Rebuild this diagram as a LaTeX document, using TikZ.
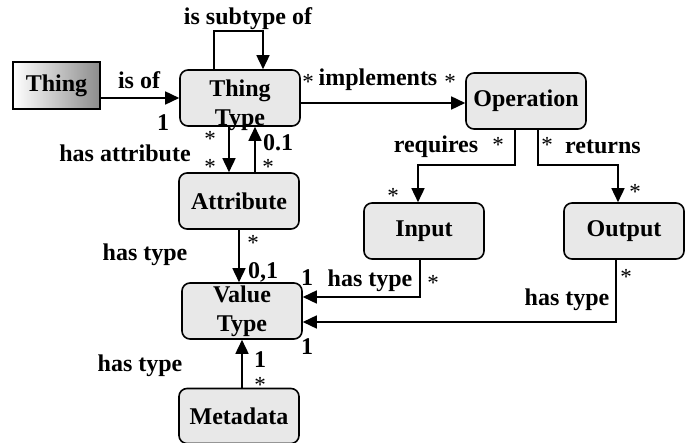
\documentclass[tikz,border=0pt]{standalone}
\usepackage{fontspec}
\setmainfont{Liberation Serif}
\usetikzlibrary{arrows.meta}
\definecolor{boxfill}{RGB}{232,232,232}
\definecolor{thingdark}{RGB}{140,140,140}
\begin{document}
\begin{tikzpicture}[x=1pt,y=-1pt,
  box/.style={draw, line width=1.6pt, rounded corners=8pt, fill=boxfill,
    minimum width=120pt, minimum height=56pt, inner sep=0pt, align=center,
    font=\bfseries\fontsize{24}{29}\selectfont},
  lbl/.style={inner sep=0pt, font=\bfseries\fontsize{24}{29}\selectfont},
  mult/.style={inner sep=0pt, font=\fontsize{23}{26}\selectfont},
  conn/.style={line width=1.6pt, -{Triangle[length=14pt,width=13pt]}},
  plain/.style={line width=1.6pt}]
\useasboundingbox (0,0) rectangle (690,443);

% nodes
\node[draw, line width=1.6pt, minimum width=87pt, minimum height=47pt, inner sep=0pt,
  left color=white, right color=thingdark, font=\bfseries\fontsize{24}{29}\selectfont]
  (thing) at (56.5,85.5) {Thing};
\node[box] (tt) at (240,98) {};
\node[lbl, align=center] (tttext) at (240,105) {Thing\\Type};
\node[box] (op) at (526,101) {Operation};
\node[box] (attr) at (239,201) {Attribute};
\node[box] (in) at (424,231) {Input};
\node[box] (out) at (624,231) {Output};
\node[box] (vt) at (242,311) {Value\\Type};
\node[box, minimum height=55pt] (meta) at (239,416) {Metadata};

% Thing -> Thing Type
\draw[conn] (thing.east |- tt.west) -- (tt.west);
\node[lbl] (lisof) at (139,80) {is of};
\node[lbl] (m1) at (163,123) {1};

% is subtype of (self loop)
\coordinate (s1) at (214,31);
\coordinate (s2) at (263,31);
\draw[conn] (s1 |- tt.north) -- (s1) -- (s2) -- (s2 |- tt.north);
\node[lbl] (lsub) at (248,19) {is subtype of};

% implements
\draw[conn] (tt.east |- 0,103) -- (op.west |- 0,103);
\node[mult] (m2) at (308,82) {*};
\node[lbl] (limp) at (378,80) {implements};
\node[mult] (m3) at (450,82) {*};

% has attribute
\draw[conn] (tt.south -| 229,0) -- (attr.north -| 229,0);
\draw[conn] (attr.north -| 255,0) -- (tt.south -| 255,0);
\node[lbl] (lhasattr) at (125,153) {has attribute};
\node[mult] (m4) at (210,139) {*};
\node[mult] (m5) at (210,167) {*};
\node[lbl] (m6) at (278,143) {0.1};
\node[mult] (m7) at (268,167) {*};

% requires
\coordinate (r1) at (515,165);
\coordinate (r2) at (418,165);
\draw[conn] (op.south -| r1) -- (r1) -- (r2) -- (r2 |- in.north);
\node[lbl] (lreq) at (436,147) {requires};
\node[mult] (m8) at (498,145) {*};
\node[mult] (m9) at (393,196) {*};

% returns
\coordinate (t1) at (538,165);
\coordinate (t2) at (618,165);
\draw[conn] (op.south -| t1) -- (t1) -- (t2) -- (t2 |- out.north);
\node[mult] (m10) at (547,145) {*};
\node[lbl] (lret) at (603,147) {returns};
\node[mult] (m11) at (635,192) {*};

% Attribute -> Value Type
\draw[conn] (attr.south -| 239,0) -- (vt.north -| 239,0);
\node[mult] (m12) at (253,243) {*};
\node[lbl] (lht1) at (145,255) {has type};
\node[lbl] (m13) at (263,272) {0,1};

% Input -> Value Type
\coordinate (i1) at (420,297);
\draw[conn] (in.south -| i1) -- (i1) -- (vt.east |- i1);
\node[lbl] (m14) at (307,278) {1};
\node[lbl] (lht2) at (370,281) {has type};
\node[mult] (m15) at (433,283) {*};

% Output -> Value Type
\coordinate (o1) at (616,322);
\draw[conn] (out.south -| o1) -- (o1) -- (vt.east |- o1);
\node[mult] (m16) at (626,277) {*};
\node[lbl] (lht3) at (567,300) {has type};
\node[lbl] (m17) at (307,347) {1};

% Metadata -> Value Type
\draw[conn] (meta.north -| 242,0) -- (vt.south -| 242,0);
\node[lbl] (lht4) at (140,366) {has type};
\node[lbl] (m18) at (260,360) {1};
\node[mult] (m19) at (260,385) {*};
\end{tikzpicture}
\end{document}
